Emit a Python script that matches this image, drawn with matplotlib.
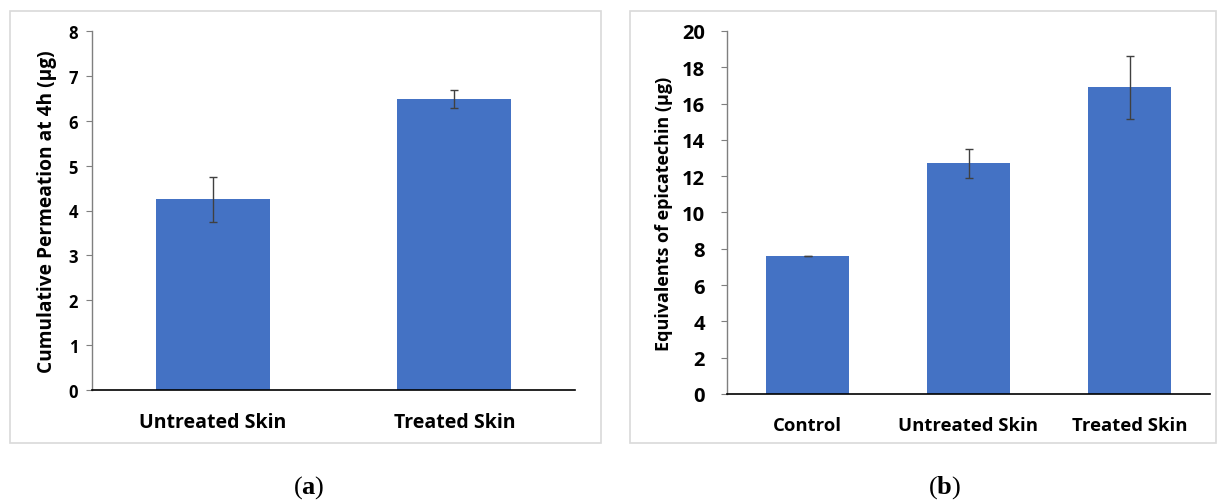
import matplotlib
matplotlib.use("Agg")
import matplotlib.pyplot as plt
from matplotlib.patches import Rectangle

# Data
cats_a = ["Untreated Skin", "Treated Skin"]
vals_a = [4.25, 6.48]
errs_a = [0.50, 0.20]
yticks_a = [0, 1, 2, 3, 4, 5, 6, 7, 8]
ylabel_a = "Cumulative Permeation at 4h (µg)"

cats_b = ["Control", "Untreated Skin", "Treated Skin"]
vals_b = [7.6, 12.7, 16.9]
errs_b = [0.02, 0.80, 1.75]
yticks_b = [0, 2, 4, 6, 8, 10, 12, 14, 16, 18, 20]
ylabel_b = "Equivalents of epicatechin (µg)"

BAR = "#4472C4"
FONT = "Open Sans"

plt.rcParams["mathtext.fontset"] = "custom"
plt.rcParams["mathtext.rm"] = "Liberation Serif"
plt.rcParams["mathtext.bf"] = "Liberation Serif:bold"

W, H = 1218, 502
fig = plt.figure(figsize=(W / 100, H / 100), dpi=100)

def fx(px): return px / W
def fy(py): return 1 - py / H

# panel frames
for x0, x1 in [(10, 601), (630, 1216)]:
    fig.patches.append(Rectangle((fx(x0), fy(444)), fx(x1) - fx(x0), fy(12) - fy(444),
                                 transform=fig.transFigure, fill=False,
                                 edgecolor="#d9d9d9", linewidth=1.2))

def style(ax, cats, yticks, ylabel, xfs, yfs, lfs, ypad, lpad, xpad):
    for s in ["top", "right"]:
        ax.spines[s].set_visible(False)
    ax.spines["left"].set_color("#7f7f7f")
    ax.spines["bottom"].set_color("#000000")
    ax.spines["left"].set_linewidth(1.0)
    ax.spines["bottom"].set_linewidth(1.2)
    ax.set_yticks(yticks)
    ax.set_ylim(yticks[0], yticks[-1])
    ax.set_xticks(range(len(cats)))
    ax.set_xticklabels(cats, fontfamily=FONT, fontweight="bold", fontsize=xfs)
    ax.tick_params(axis="x", length=0, pad=xpad)
    ax.tick_params(axis="y", direction="out", length=4, color="#7f7f7f", pad=ypad)
    for t in ax.get_yticklabels():
        t.set_fontfamily(FONT); t.set_fontweight("bold"); t.set_fontsize(yfs)
    ax.set_ylabel(ylabel, fontfamily=FONT, fontweight="bold", fontsize=lfs, labelpad=lpad)

ax1 = fig.add_axes([fx(92), fy(391), fx(575) - fx(92), fy(32) - fy(391)])
ax1.bar(range(len(cats_a)), vals_a, width=0.47, color=BAR, zorder=2)
ax1.errorbar(range(len(cats_a)), vals_a, yerr=errs_a, fmt="none", ecolor="#404040",
             elinewidth=1.0, capsize=3, capthick=1.0, zorder=3)
ax1.set_xlim(-0.5, 1.5)
style(ax1, cats_a, yticks_a, ylabel_a, 14, 12, 13.8, 6, 8, 16)

ax2 = fig.add_axes([fx(727), fy(395), fx(1210) - fx(727), fy(32) - fy(395)])
ax2.bar(range(len(cats_b)), vals_b, width=0.52, color=BAR, zorder=2)
ax2.errorbar(range(len(cats_b)), vals_b, yerr=errs_b, fmt="none", ecolor="#404040",
             elinewidth=1.0, capsize=3, capthick=1.0, zorder=3)
ax2.set_xlim(-0.5, 2.5)
style(ax2, cats_b, yticks_b, ylabel_b, 13.3, 14.5, 13, 12, 6, 16)

fig.text(fx(309), fy(488), r"$\mathrm{(}\mathbf{a}\mathrm{)}$", ha="center", va="center", fontsize=19)
fig.text(fx(945), fy(488), r"$\mathrm{(}\mathbf{b}\mathrm{)}$", ha="center", va="center", fontsize=19)

fig.savefig("out.png", dpi=100)
